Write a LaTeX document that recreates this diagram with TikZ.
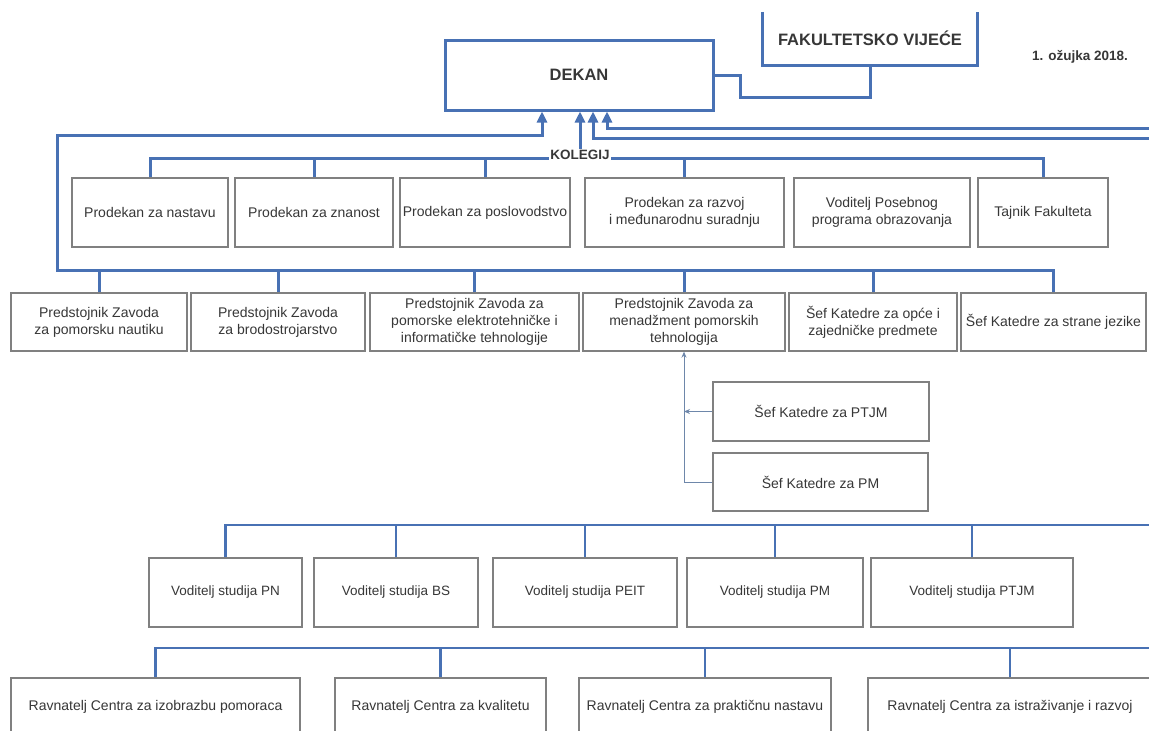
\documentclass[tikz,border=0pt]{standalone}
\usepackage{fontspec}
\setmainfont{Liberation Sans}
\usetikzlibrary{arrows.meta}
\definecolor{lineblue}{RGB}{72,113,180}
\definecolor{boxgray}{RGB}{128,128,128}
\definecolor{txt}{RGB}{55,55,55}
\definecolor{thinblue}{RGB}{110,135,170}
\begin{document}
\begin{tikzpicture}[x=1pt,y=-1pt,
  box/.style={draw=boxgray, line width=1.3pt, fill=white, align=center, text=txt, inner sep=2pt, font=\fontsize{14}{17}\selectfont},
  smallbox/.style={box, font=\fontsize{13.5}{16}\selectfont},
  bigbox/.style={draw=lineblue, line width=3pt, fill=white, text=txt, font=\bfseries\fontsize{16.5}{19}\selectfont},
  conn/.style={draw=lineblue, line width=3pt},
  conn2/.style={draw=lineblue, line width=2.5pt},
  upar/.style={conn, -{Triangle[length=11pt,width=10pt]}},
  thinar/.style={draw=thinblue, line width=1pt, -{Stealth[length=6pt,width=5pt]}},
  lbl/.style={text=txt, font=\bfseries\fontsize{13.5}{15}\selectfont}
]
\useasboundingbox (0,0) rectangle (1149,731);
\fill[white] (0,0) rectangle (1149,731);
\clip (0,0) rectangle (1149,731);

% top
\node[bigbox, minimum width=268pt, minimum height=70pt] (dekan) at (579,75) {DEKAN};
\node[minimum width=214pt, minimum height=53pt, text=txt, font=\bfseries\fontsize{16.5}{19}\selectfont] (fv) at (870,38.5) {FAKULTETSKO VIJEĆE};
\draw[conn] (fv.north west) -- (fv.south west) -- (fv.south east) -- (fv.north east);
\node[lbl] (date) at (1080,57) {1. ožujka 2018.};
\coordinate (c1) at (740,97);
\draw[conn] (dekan.east) -| (c1) -| (fv.south);

% prodekan row
\node[box, minimum width=156pt, minimum height=69pt] (p1) at (150,212.5) {Prodekan za nastavu};
\node[box, minimum width=158pt, minimum height=69pt] (p2) at (314,212.5) {Prodekan za znanost};
\node[box, minimum width=170pt, minimum height=69pt] (p3) at (485,212.5) {Prodekan za poslovodstvo};
\node[box, minimum width=199pt, minimum height=69pt] (p4) at (684.5,212.5) {Prodekan za razvoj\\i međunarodnu suradnju};
\node[box, minimum width=176pt, minimum height=69pt] (p5) at (882,212.5) {Voditelj Posebnog\\programa obrazovanja};
\node[box, minimum width=130pt, minimum height=69pt] (p6) at (1043,212.5) {Tajnik Fakulteta};

\coordinate (kb) at (580,158);
\draw[conn] (p1.north) |- (p6.north |- kb) -- (p6.north);
\foreach \n in {p2,p3,p4} \draw[conn] (\n.north) -- (\n.north |- kb);
\node[lbl, fill=white, inner sep=1pt] (kol) at (580,155) {KOLEGIJ};
\draw[upar] (kol.north) -- (kol.north |- dekan.south);

% predstojnik row
\node[box, minimum width=176pt, minimum height=58pt] (r1) at (99,322) {Predstojnik Zavoda\\za pomorsku nautiku};
\node[box, minimum width=174pt, minimum height=58pt] (r2) at (278,322) {Predstojnik Zavoda\\za brodostrojarstvo};
\node[box, minimum width=209pt, minimum height=58pt] (r3) at (474.5,322) {Predstojnik Zavoda za\\pomorske elektrotehničke i\\informatičke tehnologije};
\node[box, minimum width=202pt, minimum height=58pt] (r4) at (684,322) {Predstojnik Zavoda za\\menadžment pomorskih\\tehnologija};
\node[box, minimum width=168pt, minimum height=58pt] (r5) at (873,322) {Šef Katedre za opće i\\zajedničke predmete};
\node[box, minimum width=185pt, minimum height=58pt] (r6) at (1053.5,322) {Šef Katedre za strane jezike};

\coordinate (lb) at (57,270);
\coordinate (lt) at (57,135);
\coordinate (a1) at (542,135);
\draw[upar] (r6.north) |- (lb) -- (lt) -- (a1) -- (a1 |- dekan.south);
\foreach \n in {r1,r2,r3,r4,r5} \draw[conn] (\n.north) -- (\n.north |- lb);

\coordinate (e3) at (1160,138);
\coordinate (a3) at (593,138);
\draw[upar] (e3) -- (a3) -- (a3 |- dekan.south);
\coordinate (e4) at (1160,128);
\coordinate (a4) at (607,128);
\draw[upar] (e4) -- (a4) -- (a4 |- dekan.south);

% sef katedre
\node[box, minimum width=216pt, minimum height=59pt] (sptjm) at (821,411.5) {Šef Katedre za PTJM};
\node[box, minimum width=215pt, minimum height=58pt] (spm) at (820.5,482) {Šef Katedre za PM};
\draw[thinar] (spm.west) -| (r4.south);
\draw[thinar] (sptjm.west) -- (sptjm.west -| r4.south);

% voditelj studija
\node[smallbox, minimum width=153pt, minimum height=69pt] (v1) at (225.5,592.5) {Voditelj studija PN};
\node[smallbox, minimum width=164pt, minimum height=69pt] (v2) at (396,592.5) {Voditelj studija BS};
\node[smallbox, minimum width=184pt, minimum height=69pt] (v3) at (585,592.5) {Voditelj studija PEIT};
\node[smallbox, minimum width=176pt, minimum height=69pt] (v4) at (775,592.5) {Voditelj studija PM};
\node[smallbox, minimum width=202pt, minimum height=69pt] (v5) at (972,592.5) {Voditelj studija PTJM};
\coordinate (vb) at (1160,525);
\draw[conn2] (v1.north) |- (vb);
\foreach \n in {v2,v3,v4,v5} \draw[conn2] (\n.north) -- (\n.north |- vb);

% ravnatelji
\node[box, minimum width=289pt, minimum height=57pt] (w1) at (155.5,706.5) {Ravnatelj Centra za izobrazbu pomoraca};
\node[box, minimum width=211pt, minimum height=57pt] (w2) at (440.5,706.5) {Ravnatelj Centra za kvalitetu};
\node[box, minimum width=252pt, minimum height=57pt] (w3) at (705,706.5) {Ravnatelj Centra za praktičnu nastavu};
\node[box, minimum width=284pt, minimum height=57pt] (w4) at (1010,706.5) {Ravnatelj Centra za istraživanje i razvoj};
\coordinate (wb) at (1160,648);
\draw[conn2] (w1.north) |- (wb);
\foreach \n in {w2,w3,w4} \draw[conn2] (\n.north) -- (\n.north |- wb);
\end{tikzpicture}
\end{document}
